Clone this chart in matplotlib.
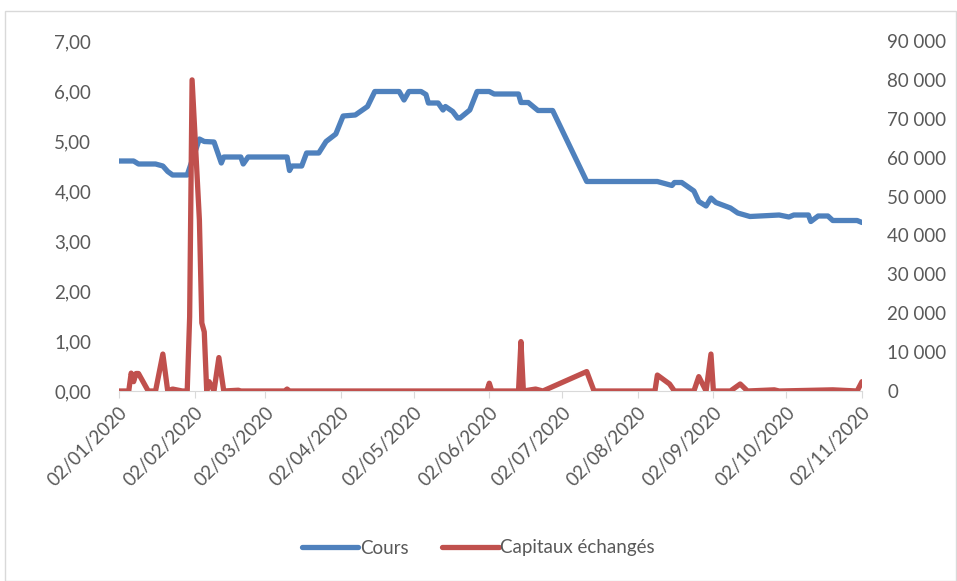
import numpy as np
import pandas as pd
import matplotlib
matplotlib.use("Agg")
import matplotlib.pyplot as plt
import matplotlib.dates as mdates
from matplotlib.ticker import FuncFormatter
from matplotlib.patches import Rectangle

plt.rcParams['font.family'] = ['Lato', 'DejaVu Sans']

# Cours (left axis)
cours_dates = ["2020-01-02", "2020-01-08", "2020-01-10", "2020-01-17", "2020-01-20", "2020-01-22",
               "2020-01-24", "2020-01-30", "2020-02-04", "2020-02-06", "2020-02-10", "2020-02-13",
               "2020-02-14", "2020-02-21", "2020-02-22", "2020-02-24", "2020-03-11", "2020-03-12",
               "2020-03-13", "2020-03-17", "2020-03-19", "2020-03-24", "2020-03-27", "2020-03-31",
               "2020-04-03", "2020-04-08", "2020-04-13", "2020-04-16", "2020-04-26", "2020-04-28",
               "2020-04-30", "2020-05-05", "2020-05-07", "2020-05-08", "2020-05-12", "2020-05-14",
               "2020-05-15", "2020-05-18", "2020-05-20", "2020-05-21", "2020-05-25", "2020-05-28",
               "2020-06-02", "2020-06-04", "2020-06-14", "2020-06-15", "2020-06-18", "2020-06-22",
               "2020-06-28", "2020-07-12", "2020-08-10", "2020-08-16", "2020-08-17", "2020-08-20",
               "2020-08-25", "2020-08-27", "2020-08-30", "2020-09-01", "2020-09-03", "2020-09-09",
               "2020-09-12", "2020-09-17", "2020-09-29", "2020-10-03", "2020-10-05", "2020-10-11",
               "2020-10-12", "2020-10-15", "2020-10-19", "2020-10-21", "2020-10-31", "2020-11-02"]
cours = [4.60, 4.60, 4.54, 4.54, 4.50, 4.39,
         4.32, 4.32, 5.04, 4.99, 4.98, 4.56,
         4.68, 4.68, 4.54, 4.68, 4.68, 4.41,
         4.50, 4.50, 4.76, 4.76, 4.99, 5.14,
         5.50, 5.52, 5.69, 5.99, 5.99, 5.82,
         5.99, 5.99, 5.93, 5.76, 5.76, 5.62,
         5.69, 5.59, 5.46, 5.46, 5.62, 5.99,
         5.99, 5.94, 5.94, 5.77, 5.77, 5.61,
         5.61, 4.19, 4.19, 4.11, 4.17, 4.17,
         4.00, 3.79, 3.70, 3.86, 3.77, 3.66,
         3.56, 3.49, 3.52, 3.48, 3.52, 3.52,
         3.39, 3.50, 3.50, 3.41, 3.41, 3.37]

# Capitaux échangés (right axis)
cap_dates = ["2020-01-02", "2020-01-06", "2020-01-07", "2020-01-08", "2020-01-09", "2020-01-10",
             "2020-01-14", "2020-01-17", "2020-01-20", "2020-01-22", "2020-01-24", "2020-01-28",
             "2020-01-30", "2020-01-31", "2020-02-01", "2020-02-04", "2020-02-05", "2020-02-06",
             "2020-02-07", "2020-02-08", "2020-02-10", "2020-02-12", "2020-02-14", "2020-02-20",
             "2020-02-21", "2020-03-10", "2020-03-11", "2020-03-12", "2020-06-01", "2020-06-02",
             "2020-06-03", "2020-06-14", "2020-06-15", "2020-06-16", "2020-06-21", "2020-06-24",
             "2020-07-12", "2020-07-15", "2020-08-09", "2020-08-10", "2020-08-15", "2020-08-17",
             "2020-08-25", "2020-08-27", "2020-08-30", "2020-09-01", "2020-09-02", "2020-09-09",
             "2020-09-13", "2020-09-16", "2020-09-27", "2020-09-29", "2020-10-21", "2020-10-31",
             "2020-11-02"]
capitaux = [0, 0, 4600, 2400, 4500, 4500,
            0, 0, 9500, 0, 500, 0,
            0, 19000, 80000, 44000, 17500, 15200,
            0, 2400, 0, 8600, 0, 200,
            0, 0, 500, 0, 0, 2000,
            0, 0, 12700, 0, 500, 0,
            5000, 0, 0, 4100, 1800, 0,
            0, 3700, 0, 9500, 0, 0,
            1800, 0, 300, 0, 300, 0,
            2400]

month_ticks = ["2020-01-02", "2020-02-02", "2020-03-02", "2020-04-02", "2020-05-02", "2020-06-02",
               "2020-07-02", "2020-08-02", "2020-09-02", "2020-10-02", "2020-11-02"]

blue = '#4F81BD'
red = '#C0504D'
txt = '#595959'

fig = plt.figure(figsize=(9.57, 5.81), dpi=100)
fig.patches.append(Rectangle((5/957, 0), 951/957, 1 - 11/581, transform=fig.transFigure,
                             fill=False, ec='#D9D9D9', lw=1))
ax = fig.add_axes([119/957, 1 - 391/581, 743/957, 350/581])
ax2 = ax.twinx()

ax.plot(pd.to_datetime(cours_dates), cours, color=blue, lw=3.8, solid_capstyle='round',
        solid_joinstyle='round', label='Cours', zorder=3)
ax2.plot(pd.to_datetime(cap_dates), capitaux, color=red, lw=3.8, solid_capstyle='round',
         solid_joinstyle='round', label='Capitaux échangés', zorder=3)

ax.set_xlim(pd.Timestamp("2020-01-02"), pd.Timestamp("2020-11-02"))
ax.set_ylim(0, 7)
ax2.set_ylim(0, 90000)
ax.set_yticks(np.arange(0, 7.5, 1))
ax2.set_yticks(np.arange(0, 90001, 10000))
ax.yaxis.set_major_formatter(FuncFormatter(lambda v, p: f"{v:.2f}".replace('.', ',')))
ax2.yaxis.set_major_formatter(FuncFormatter(lambda v, p: f"{int(v):,}".replace(',', ' ')))

ax.set_xticks(pd.to_datetime(month_ticks))
ax.xaxis.set_major_formatter(mdates.DateFormatter('%d/%m/%Y'))
for lab in ax.get_xticklabels():
    lab.set_rotation(45)
    lab.set_ha('right')
    lab.set_rotation_mode('anchor')

for a in (ax, ax2):
    for s in ('top', 'left', 'right'):
        a.spines[s].set_visible(False)
    a.spines['bottom'].set_color('#D9D9D9')
    a.tick_params(axis='y', length=0, labelsize=13.5, labelcolor=txt)
ax2.spines['bottom'].set_visible(False)
ax.tick_params(axis='y', pad=20)
ax2.tick_params(axis='y', pad=18)
ax.tick_params(axis='x', length=5, color='#D9D9D9', labelsize=13.5, labelcolor=txt, pad=4)

h1, l1 = ax.get_legend_handles_labels()
h2, l2 = ax2.get_legend_handles_labels()
fig.legend(h1 + h2, l1 + l2, loc='center', bbox_to_anchor=(0.5, 1 - 548/581), ncol=2,
           frameon=False, fontsize=13.5, labelcolor=txt, handlelength=3.0, handletextpad=0.1,
           columnspacing=1.8)

fig.savefig('out.png', dpi=100)
